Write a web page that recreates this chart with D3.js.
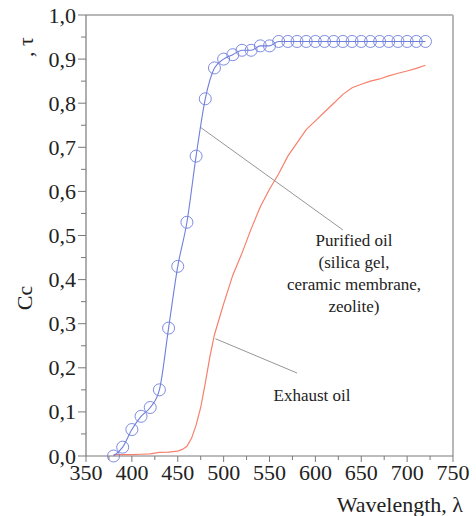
<!DOCTYPE html>
<html>
<head>
<meta charset="utf-8">
<script src="https://cdn.jsdelivr.net/npm/d3@7"></script>
<style>
  html, body { margin: 0; padding: 0; background: #fff; }
  svg { display: block; }
</style>
</head>
<body>
<svg id="chart" width="476" height="516"></svg>
<script>
// ---- data ----
const purifiedWavelengths = [380,390,400,410,420,430,440,450,460,470,480,490,500,510,520,530,540,550,560,570,580,590,600,610,620,630,640,650,660,670,680,690,700,710,720];
const purifiedValues      = [0.00,0.02,0.06,0.09,0.11,0.15,0.29,0.43,0.53,0.68,0.81,0.88,0.90,0.91,0.92,0.92,0.93,0.93,0.94,0.94,0.94,0.94,0.94,0.94,0.94,0.94,0.94,0.94,0.94,0.94,0.94,0.94,0.94,0.94,0.94];

const exhaustWavelengths = [380,390,400,410,420,430,440,450,455,460,465,470,475,480,485,490,495,500,510,520,530,540,550,560,570,580,590,600,610,620,630,640,650,660,670,680,690,700,710,720];
const exhaustValues      = [0.003,0.003,0.003,0.004,0.005,0.008,0.009,0.011,0.015,0.022,0.040,0.070,0.110,0.165,0.225,0.275,0.310,0.345,0.410,0.460,0.515,0.565,0.605,0.640,0.680,0.710,0.740,0.760,0.780,0.800,0.820,0.835,0.843,0.850,0.855,0.862,0.868,0.873,0.879,0.886];

const xTicks = [350,400,450,500,550,600,650,700,750];
const yTicks = [0,0.1,0.2,0.3,0.4,0.5,0.6,0.7,0.8,0.9,1.0];
const yTickLabels = ["0,0","0,1","0,2","0,3","0,4","0,5","0,6","0,7","0,8","0,9","1,0"];

const purifiedLabel = ["Purified oil","(silica gel,","ceramic membrane,","zeolite)"];
const exhaustLabel = "Exhaust oil";
const xTitle = "Wavelength, λ";
const yTitleBottom = "Cc";
const yTitleTop = ", τ";

// annotation anchors (data coords of pointer start on curve)
const purifiedPointer = {x: 475, y: 0.745};
const exhaustPointer = {x: 491, y: 0.266};

// ---- layout ----
const svg = d3.select("#chart");
const L = 86, R = 453, T = 15, B = 456;
const x = d3.scaleLinear().domain([350, 750]).range([L, R]);
const y = d3.scaleLinear().domain([0, 1]).range([B, T]);

const blue = "#6f7fdc";
const red = "#f7806c";
const axisCol = "#7a7a7a";
const textCol = "#222";

function styleText(sel, size) {
  return sel.attr("font-size", size).style("font-family", "'Liberation Serif', monospace").attr("fill", textCol);
}

// frame: top & right gray
svg.append("line").attr("x1", L).attr("x2", R).attr("y1", T).attr("y2", T)
  .attr("stroke", "#b8b8b8").attr("stroke-width", 2);
svg.append("line").attr("x1", R).attr("x2", R).attr("y1", T).attr("y2", B)
  .attr("stroke", "#b8b8b8").attr("stroke-width", 2);

// x axis
const xAxis = svg.append("g").attr("transform", `translate(0,${B})`);
xAxis.append("line").attr("x1", L).attr("x2", R).attr("stroke", axisCol).attr("stroke-width", 1.2);
const xMinor = d3.range(350, 751, 25);
xAxis.selectAll(".xm").data(xMinor).join("line")
  .attr("x1", d => x(d)).attr("x2", d => x(d))
  .attr("y1", 0).attr("y2", d => d % 50 === 0 ? 6 : 4)
  .attr("stroke", axisCol).attr("stroke-width", 1);
styleText(xAxis.selectAll(".xl").data(xTicks).join("text")
  .attr("x", d => x(d)).attr("y", 24)
  .attr("text-anchor", "middle"), 22)
  .text(d => d);

// y axis
const yAxis = svg.append("g");
yAxis.append("line").attr("x1", L).attr("x2", L).attr("y1", T).attr("y2", B)
  .attr("stroke", axisCol).attr("stroke-width", 1.2);
const yMinor = d3.range(0, 21).map(i => i / 20);
yAxis.selectAll(".ym").data(yMinor).join("line")
  .attr("x1", (d, i) => i % 2 === 0 ? L - 8 : L - 5).attr("x2", L)
  .attr("y1", d => y(d)).attr("y2", d => y(d))
  .attr("stroke", axisCol).attr("stroke-width", 1);
styleText(yAxis.selectAll(".yl").data(yTicks).join("text")
  .attr("x", L - 10).attr("y", d => y(d) + 7.5)
  .attr("text-anchor", "end"), 22)
  .text((d, i) => yTickLabels[i]);

// titles
styleText(svg.append("text").attr("x", R + 10).attr("y", 512).attr("text-anchor", "end"), 22)
  .text(xTitle);
styleText(svg.append("text").attr("transform", "translate(32,298) rotate(-90)")
  .attr("text-anchor", "middle"), 22).text(yTitleBottom);
styleText(svg.append("text").attr("transform", "translate(33,47) rotate(-90)")
  .attr("text-anchor", "middle"), 22).text(yTitleTop);

// series
const line = d3.line().x(d => x(d[0])).y(d => y(d[1]));
const exhaust = exhaustWavelengths.map((w, i) => [w, exhaustValues[i]]);
const purified = purifiedWavelengths.map((w, i) => [w, purifiedValues[i]]);

svg.append("path").datum(exhaust).attr("d", line)
  .attr("fill", "none").attr("stroke", red).attr("stroke-width", 1.2);
svg.append("path").datum(purified).attr("d", line.curve(d3.curveMonotoneX))
  .attr("fill", "none").attr("stroke", blue).attr("stroke-width", 1.1);
svg.selectAll(".pm").data(purified).join("circle")
  .attr("cx", d => x(d[0])).attr("cy", d => y(d[1])).attr("r", 6)
  .attr("fill", "none").attr("stroke", blue).attr("stroke-width", 0.9);

// annotations
svg.append("line").attr("x1", x(purifiedPointer.x)).attr("y1", y(purifiedPointer.y))
  .attr("x2", 343).attr("y2", 230).attr("stroke", "#8a8a8a").attr("stroke-width", 0.9);
svg.append("line").attr("x1", x(exhaustPointer.x)).attr("y1", y(exhaustPointer.y))
  .attr("x2", 297).attr("y2", 373).attr("stroke", "#8a8a8a").attr("stroke-width", 0.9);

styleText(svg.append("g").selectAll("text").data(purifiedLabel).join("text")
  .attr("x", 354).attr("y", (d, i) => 246 + i * 22)
  .attr("text-anchor", "middle"), 17).text(d => d);
styleText(svg.append("text").attr("x", 312).attr("y", 401).attr("text-anchor", "middle"), 17)
  .text(exhaustLabel);
</script>
</body>
</html>
